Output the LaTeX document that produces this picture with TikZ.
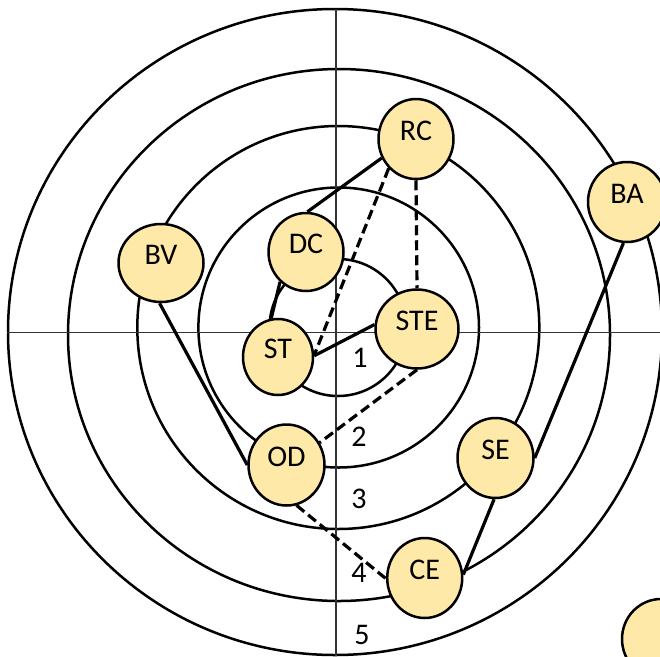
\documentclass[tikz,border=0pt]{standalone}
\usepackage{fontspec}
\setmainfont{Carlito}
\usetikzlibrary{shapes.geometric}
\definecolor{nodefill}{HTML}{FFE9A8}
\begin{document}
\begin{tikzpicture}[x=1pt,y=-1pt,
  ring/.style={line width=2.5pt},
  axisline/.style={line width=1.3pt, black!80},
  nd/.style={ellipse, draw, line width=2.5pt, fill=nodefill, inner sep=0pt,
    font=\fontsize{30}{31}\selectfont, text height=0.64em, text depth=0.4em},
  solidlink/.style={line width=3.2pt},
  dashlink/.style={line width=3.2pt, dash pattern=on 10pt off 5pt},
  num/.style={font=\fontsize{30}{31}\selectfont, inner sep=0pt}
]
\useasboundingbox (0,0) rectangle (660,656);
\clip (0,0) rectangle (660,656);
% rings
\draw[ring] (338,327.5) ellipse [x radius=68.5pt, y radius=68.5pt];
\draw[ring] (338.7,327.5) ellipse [x radius=140.3pt, y radius=140pt];
\draw[ring] (338.3,327.5) ellipse [x radius=201pt, y radius=201.5pt];
\draw[ring] (339,335) ellipse [x radius=271pt, y radius=266pt];
\draw[ring] (335,332) ellipse [x radius=327pt, y radius=323pt];
% axes
\draw[axisline] (7,332.5) -- (665,332.5);
\draw[axisline] (336,9) -- (336,656);
% ring numbers
\node[num] (n1) at (360,358) {1};
\node[num] (n2) at (359,437) {2};
\node[num] (n3) at (359,499) {3};
\node[num] (n4) at (359,573) {4};
\node[num] (n5) at (362,635) {5};
% nodes
\node[nd, minimum width=75pt, minimum height=80pt] (RC) at (416,139) {RC};
\node[nd, minimum width=78pt, minimum height=80pt] (BA) at (627,202) {BA};
\node[nd, minimum width=85pt, minimum height=78pt] (BV) at (161,263) {BV};
\node[nd, minimum width=75pt, minimum height=78pt] (DC) at (306,252) {DC};
\node[nd, minimum width=70pt, minimum height=76pt] (ST) at (278,357) {ST};
\node[nd, minimum width=83pt, minimum height=79pt] (STE) at (417,329) {STE};
\node[nd, minimum width=76pt, minimum height=81pt] (OD) at (286.5,465) {OD};
\node[nd, minimum width=76pt, minimum height=80pt] (SE) at (495.5,458) {SE};
\node[nd, minimum width=75pt, minimum height=80pt] (CE) at (424.7,578) {CE};
\node[nd, minimum width=78pt, minimum height=80pt] (XX) at (661,639) {};
% connectors
\draw[solidlink] (RC.209) -- (DC.88);
\draw[dashlink] (RC.227) -- (ST.3);
\draw[dashlink] (RC.south) -- (STE.north);
\draw[solidlink] (DC.229) -- (ST.100);
\draw[solidlink] (ST.2) -- (STE.174);
\draw[dashlink] (STE.south) -- (OD.34);
\draw[solidlink] (BV.268) -- (OD.180);
\draw[dashlink] (OD.284) -- (CE.181);
\draw[solidlink] (SE.268) -- (CE.5);
\draw[solidlink] (BA.265) -- (SE.east);
\end{tikzpicture}
\end{document}
